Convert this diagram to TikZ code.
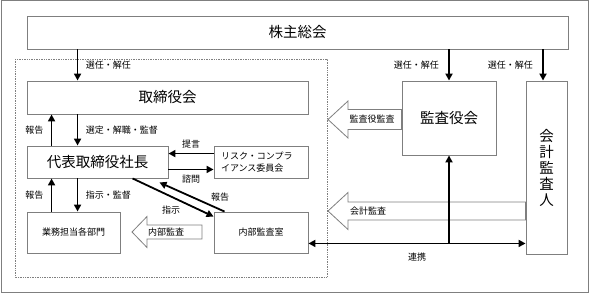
\documentclass[tikz,border=0pt]{standalone}
\usepackage{fontspec}
\setmainfont{Noto Sans CJK JP}
\usetikzlibrary{arrows.meta,calc}

\definecolor{frame}{HTML}{7F7F7F}

\tikzset{
  box/.style={draw=frame, fill=white, line width=0.9pt, inner sep=0pt},
  big/.style={font=\fontsize{14.5pt}{16pt}\selectfont},
  small/.style={font=\fontsize{9pt}{12pt}\selectfont},
  arr/.style={line width=1.8pt, -{Triangle[length=7pt,width=7pt]}},
  dbl/.style={line width=1.8pt, {Triangle[length=7pt,width=7pt]}-{Triangle[length=7pt,width=7pt]}},
  fat/.style={draw=frame, fill=white, line width=0.8pt}
}

% tail, tip, half body, half head, head length
\newcommand{\fatarrow}[5]{%
  \draw[fat] ($(#1)+(0,-#3)$) -- ($(#2)+(#5,-#3)$) -- ($(#2)+(#5,-#4)$) -- (#2)
    -- ($(#2)+(#5,#4)$) -- ($(#2)+(#5,#3)$) -- ($(#1)+(0,#3)$) -- cycle;}

\begin{document}
\begin{tikzpicture}[x=1pt, y=-1pt]

\useasboundingbox (0,0) rectangle (591,294);

% Outer frame and company area
\draw[frame, line width=1pt] (1,1) rectangle (588,292);
\draw[frame, densely dotted, line width=0.7pt] (15,59) rectangle (327,277);

% Boxes
\node[box, big, minimum width=541pt, minimum height=33pt] (holders) at (297.5,32.5) {株主総会};
\node[box, big, minimum width=281pt, minimum height=33pt] (board) at (167.5,97.5) {取締役会};
\node[box, big, minimum width=141pt, minimum height=32pt] (ceo) at (97.5,162) {代表取締役社長};
\node[box, small, minimum width=94pt, minimum height=32pt, align=left, text width=80pt] (risk) at (261,162) {リスク・コンプラ\\イアンス委員会};
\node[box, small, minimum width=93pt, minimum height=41pt] (depts) at (73.5,232.5) {業務担当各部門};
\node[box, small, minimum width=94pt, minimum height=41pt] (audit) at (261,232.5) {内部監査室};
\node[box, big, minimum width=94pt, minimum height=74pt] (auditors) at (449,118) {監査役会};
\node[box, big, minimum width=41pt, minimum height=173pt, align=center] (cpa) at (546.5,167.5) {会\\計\\監\\査\\人};

% Wide arrows
\coordinate (tipA) at (328,119.5);
\coordinate (tipB) at (328,211);
\coordinate (tipC) at (132,232);
\coordinate (tailC) at (202,232);
\fatarrow{auditors.west |- tipA}{tipA}{10}{18.5}{20}
\fatarrow{cpa.west |- tipB}{tipB}{9}{18.5}{20}
\fatarrow{tailC}{tipC}{7}{15.5}{15}
\node[small] (lblA) at (372,119.5) {監査役監査};
\node[small] (lblB) at (368,211) {会計監査};
\node[small] (lblC) at (166,232) {内部監査};

% Shareholders
\draw[arr] ([xshift=51pt]holders.south west) -- ([xshift=51pt]board.north west)
  node[midway, right=4pt, small] {選任・解任};
\draw[arr] (holders.south -| auditors.north) -- (auditors.north)
  node[midway, left=6pt, small] {選任・解任};
\draw[arr] ([xshift=-3.5pt]holders.south -| cpa.north) -- ([xshift=-3.5pt]cpa.north)
  node[midway, left=6pt, small] {選任・解任};

% Board and president
\draw[arr] ([xshift=51pt]board.south west) -- ([xshift=51pt]ceo.north west)
  node[midway, right=4pt, small] {選定・解職・監督};
\draw[arr] ([xshift=25pt]ceo.north west) -- ([xshift=25pt]board.south west)
  node[midway, left=4pt, small] {報告};

% Committee
\draw[arr] ([yshift=-8pt]risk.north west) -- ([yshift=-8pt]ceo.north east)
  node[midway, above=1pt, small] {提言};
\draw[arr] ([yshift=9pt]ceo.south east) -- ([yshift=9pt]risk.south west)
  node[midway, below=1pt, small] {諮問};

% Departments
\draw[arr] ([xshift=51pt]ceo.south west) -- ([xshift=51pt]depts.north west)
  node[midway, right=4pt, small] {指示・監督};
\draw[arr] ([xshift=25pt]depts.north west) -- ([xshift=25pt]ceo.south west)
  node[midway, left=4pt, small] {報告};

% Internal audit
\draw[arr] ([xshift=106pt]ceo.south west) -- ([yshift=-5pt]audit.north west)
  node[midway, xshift=-2pt, yshift=-13pt, small] {指示};
\draw[arr] ([xshift=11pt]audit.north west) -- ([xshift=-9pt,yshift=-4pt]ceo.south east)
  node[midway, xshift=28pt, small] {報告};

% Cooperation
\coordinate (link) at ([yshift=10pt]audit.south east);
\draw[dbl] (link) -- (link -| cpa.west)
  node[midway, below=5pt, small] {連携};
\draw[arr] (link -| auditors.south) -- (auditors.south);

\end{tikzpicture}
\end{document}
